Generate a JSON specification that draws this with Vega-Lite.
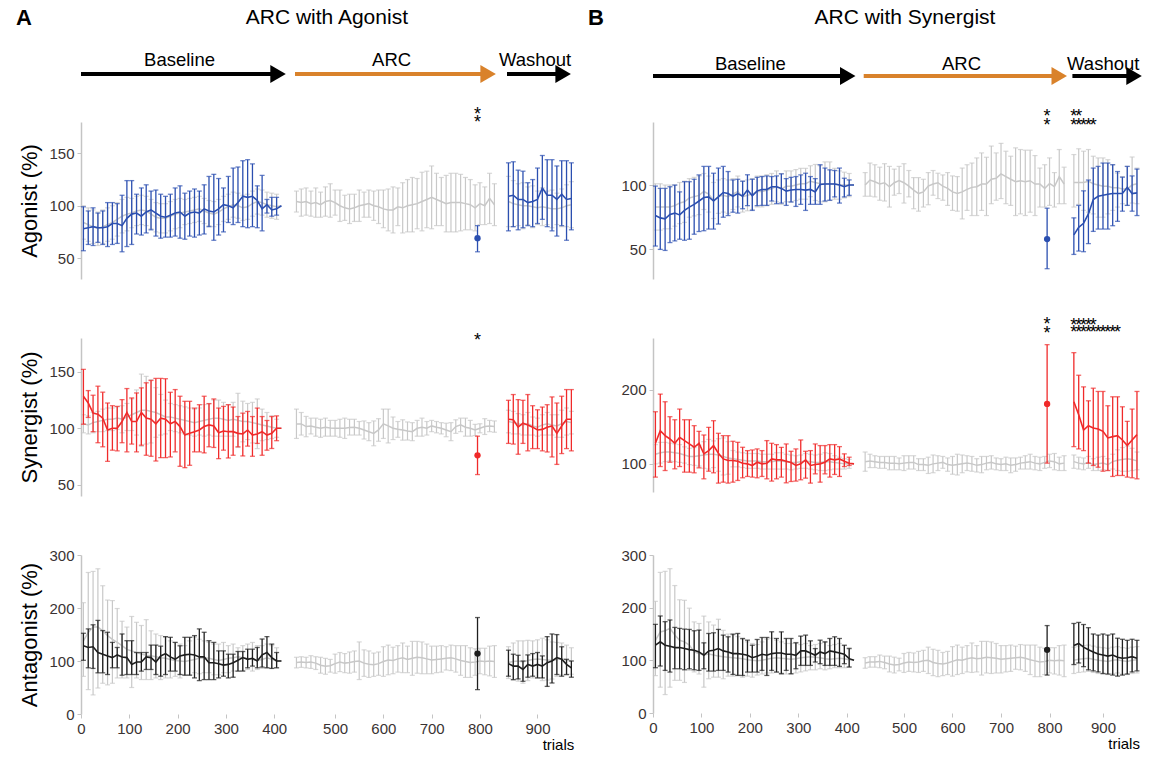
{
"$schema":"https://vega.github.io/schema/vega-lite/v6.json",
"padding":{"left":16,"top":7,"right":8,"bottom":8},
"config":{
 "font":"Liberation Sans",
 "view":{"stroke":null},
 "axis":{"grid":false,"domainColor":"#c4c4c4","domainWidth":1.5,"tickColor":"#c4c4c4","tickSize":4,"labelColor":"#3a3333","labelFontSize":15,"labelFlush":false,"labelPadding":3,"titleFontWeight":"normal","titleColor":"#000"},
 "axisY":{"titleFontSize":22,"titlePadding":7},
 "axisX":{"titleFontSize":15,"titleAnchor":"end","titlePadding":1},
 "text":{"color":"#000000"}
},
"datasets":{
 "segs":[{"phase":"Baseline","start":0,"end":417},{"phase":"ARC","start":417.01,"end":837},{"phase":"Washout","start":837.01,"end":975}],
 "arrA":[{"phase":"Baseline","start":0,"end":408},{"phase":"ARC","start":417.01,"end":817},{"phase":"Washout","start":837.01,"end":953}],
 "arrB":[{"phase":"Baseline","start":0,"end":402},{"phase":"ARC","start":417.01,"end":820},{"phase":"Washout","start":837.01,"end":964}],
 "aAgoS":[{"t":795,"y":191},{"t":795,"y":184}],
 "aSynS":[{"t":795,"y":182}],
 "bAgoS":[{"t":795,"y":157},{"t":795,"y":150},{"t":840,"y":157},{"t":850,"y":157},{"t":840,"y":150},{"t":850,"y":150},{"t":860,"y":150},{"t":870,"y":150},{"t":880,"y":150}],
 "bSynS":[{"t":795,"y":294},{"t":795,"y":282},{"t":840,"y":293},{"t":850,"y":293},{"t":860,"y":293},{"t":870,"y":293},{"t":880,"y":293},{"t":840,"y":283},{"t":850,"y":283},{"t":860,"y":283},{"t":870,"y":283},{"t":880,"y":283},{"t":890,"y":283},{"t":900,"y":283},{"t":910,"y":283},{"t":920,"y":283},{"t":930,"y":283}],
 "aAgo":[
{"t":5,"s":"g","y":84,"lo":68,"hi":100},{"t":15,"s":"g","y":82,"lo":66,"hi":98},{"t":25,"s":"g","y":80,"lo":64,"hi":96},{"t":35,"s":"g","y":78,"lo":62,"hi":94},{"t":45,"s":"g","y":80,"lo":64,"hi":96},{"t":55,"s":"g","y":82,"lo":66,"hi":98},{"t":65,"s":"g","y":84,"lo":68,"hi":100},{"t":75,"s":"g","y":87,"lo":71,"hi":103},{"t":85,"s":"g","y":90,"lo":74,"hi":106},{"t":95,"s":"g","y":92,"lo":76,"hi":108},{"t":105,"s":"g","y":93,"lo":79,"hi":107},{"t":115,"s":"g","y":95,"lo":81,"hi":109},{"t":125,"s":"g","y":96,"lo":82,"hi":110},{"t":135,"s":"g","y":95,"lo":81,"hi":109},{"t":145,"s":"g","y":92,"lo":78,"hi":106},{"t":155,"s":"g","y":89,"lo":75,"hi":103},{"t":165,"s":"g","y":88,"lo":74,"hi":102},{"t":175,"s":"g","y":88,"lo":74,"hi":102},{"t":185,"s":"g","y":90,"lo":76,"hi":104},{"t":195,"s":"g","y":92,"lo":78,"hi":106},{"t":205,"s":"g","y":93,"lo":79,"hi":107},{"t":215,"s":"g","y":94,"lo":82,"hi":106},{"t":225,"s":"g","y":95,"lo":83,"hi":107},{"t":235,"s":"g","y":96,"lo":84,"hi":108},{"t":245,"s":"g","y":97,"lo":85,"hi":109},{"t":255,"s":"g","y":95,"lo":83,"hi":107},{"t":265,"s":"g","y":93,"lo":81,"hi":105},{"t":275,"s":"g","y":92,"lo":80,"hi":104},{"t":285,"s":"g","y":94,"lo":82,"hi":106},{"t":295,"s":"g","y":97,"lo":85,"hi":109},{"t":305,"s":"g","y":99,"lo":87,"hi":111},{"t":315,"s":"g","y":101,"lo":89,"hi":113},{"t":325,"s":"g","y":100,"lo":88,"hi":112},{"t":335,"s":"g","y":98,"lo":86,"hi":110},{"t":345,"s":"g","y":99,"lo":87,"hi":111},{"t":355,"s":"g","y":102,"lo":90,"hi":114},{"t":365,"s":"g","y":104,"lo":92,"hi":116},{"t":375,"s":"g","y":103,"lo":91,"hi":115},{"t":385,"s":"g","y":101,"lo":89,"hi":113},{"t":395,"s":"g","y":100,"lo":88,"hi":112},{"t":405,"s":"g","y":99,"lo":87,"hi":111},{"t":415,"s":"g","y":100},
{"t":420,"s":"g","y":104,"lo":94,"hi":114},{"t":430,"s":"g","y":103,"lo":90,"hi":116},{"t":440,"s":"g","y":104,"lo":91,"hi":117},{"t":450,"s":"g","y":102,"lo":90,"hi":114},{"t":460,"s":"g","y":103,"lo":89,"hi":117},{"t":470,"s":"g","y":101,"lo":89,"hi":113},{"t":480,"s":"g","y":104,"lo":90,"hi":118},{"t":490,"s":"g","y":105,"lo":89,"hi":121},{"t":500,"s":"g","y":103,"lo":91,"hi":115},{"t":510,"s":"g","y":100,"lo":85,"hi":115},{"t":520,"s":"g","y":98,"lo":86,"hi":110},{"t":530,"s":"g","y":97,"lo":83,"hi":111},{"t":540,"s":"g","y":98,"lo":85,"hi":111},{"t":550,"s":"g","y":100,"lo":85,"hi":115},{"t":560,"s":"g","y":101,"lo":89,"hi":113},{"t":570,"s":"g","y":102,"lo":89,"hi":115},{"t":580,"s":"g","y":100,"lo":86,"hi":114},{"t":590,"s":"g","y":99,"lo":83,"hi":115},{"t":600,"s":"g","y":97,"lo":79,"hi":115},{"t":610,"s":"g","y":96,"lo":76,"hi":116},{"t":620,"s":"g","y":96,"lo":74,"hi":118},{"t":630,"s":"g","y":99,"lo":81,"hi":117},{"t":640,"s":"g","y":98,"lo":74,"hi":122},{"t":650,"s":"g","y":100,"lo":75,"hi":125},{"t":660,"s":"g","y":101,"lo":75,"hi":127},{"t":670,"s":"g","y":102,"lo":78,"hi":126},{"t":680,"s":"g","y":104,"lo":76,"hi":132},{"t":690,"s":"g","y":106,"lo":79,"hi":133},{"t":700,"s":"g","y":108,"lo":78,"hi":138},{"t":710,"s":"g","y":106,"lo":81,"hi":131},{"t":720,"s":"g","y":104,"lo":81,"hi":127},{"t":730,"s":"g","y":102,"lo":75,"hi":129},{"t":740,"s":"g","y":103,"lo":75,"hi":131},{"t":750,"s":"g","y":103,"lo":75,"hi":131},{"t":760,"s":"g","y":103,"lo":76,"hi":130},{"t":770,"s":"g","y":102,"lo":77,"hi":127},{"t":780,"s":"g","y":101,"lo":77,"hi":125},{"t":790,"s":"g","y":98,"lo":76,"hi":120},{"t":800,"s":"g","y":102,"lo":82,"hi":122},{"t":810,"s":"g","y":100,"lo":82,"hi":118},{"t":820,"s":"g","y":107,"lo":83,"hi":131},{"t":830,"s":"g","y":101,"lo":81,"hi":121},
{"t":840,"s":"g","y":104,"lo":80,"hi":128},{"t":850,"s":"g","y":102,"lo":80,"hi":124},{"t":860,"s":"g","y":101,"lo":81,"hi":121},{"t":870,"s":"g","y":100,"lo":78,"hi":122},{"t":880,"s":"g","y":100,"lo":82,"hi":118},{"t":890,"s":"g","y":99,"lo":79,"hi":119},{"t":900,"s":"g","y":98,"lo":82,"hi":114},{"t":910,"s":"g","y":99,"lo":81,"hi":117},{"t":920,"s":"g","y":98,"lo":82,"hi":114},{"t":930,"s":"g","y":97,"lo":79,"hi":115},{"t":940,"s":"g","y":97,"lo":82,"hi":112},{"t":950,"s":"g","y":98,"lo":80,"hi":116},{"t":960,"s":"g","y":100,"lo":80,"hi":120},{"t":970,"s":"g","y":101,"lo":79,"hi":123},
{"t":5,"s":"m","y":78,"lo":57,"hi":99},{"t":15,"s":"m","y":79,"lo":63,"hi":95},{"t":25,"s":"m","y":80,"lo":62,"hi":98},{"t":35,"s":"m","y":79,"lo":65,"hi":93},{"t":45,"s":"m","y":79,"lo":63,"hi":95},{"t":55,"s":"m","y":80,"lo":61,"hi":103},{"t":65,"s":"m","y":83,"lo":63,"hi":103},{"t":75,"s":"m","y":83,"lo":64,"hi":102},{"t":85,"s":"m","y":81,"lo":56,"hi":110},{"t":95,"s":"m","y":88,"lo":61,"hi":124},{"t":105,"s":"m","y":92,"lo":63,"hi":124},{"t":115,"s":"m","y":93,"lo":73,"hi":111},{"t":125,"s":"m","y":90,"lo":72,"hi":117},{"t":135,"s":"m","y":94,"lo":74,"hi":120},{"t":145,"s":"m","y":96,"lo":77,"hi":114},{"t":155,"s":"m","y":93,"lo":71,"hi":115},{"t":165,"s":"m","y":90,"lo":69,"hi":111},{"t":175,"s":"m","y":89,"lo":70,"hi":109},{"t":185,"s":"m","y":91,"lo":70,"hi":111},{"t":195,"s":"m","y":93,"lo":71,"hi":117},{"t":205,"s":"m","y":94,"lo":69,"hi":119},{"t":215,"s":"m","y":90,"lo":68,"hi":112},{"t":225,"s":"m","y":93,"lo":71,"hi":114},{"t":235,"s":"m","y":94,"lo":70,"hi":116},{"t":245,"s":"m","y":93,"lo":72,"hi":114},{"t":255,"s":"m","y":97,"lo":73,"hi":120},{"t":265,"s":"m","y":95,"lo":80,"hi":128},{"t":275,"s":"m","y":94,"lo":67,"hi":130},{"t":285,"s":"m","y":97,"lo":72,"hi":126},{"t":295,"s":"m","y":101,"lo":75,"hi":117},{"t":305,"s":"m","y":100,"lo":84,"hi":128},{"t":315,"s":"m","y":98,"lo":82,"hi":136},{"t":325,"s":"m","y":103,"lo":84,"hi":137},{"t":335,"s":"m","y":109,"lo":80,"hi":143},{"t":345,"s":"m","y":108,"lo":79,"hi":144},{"t":355,"s":"m","y":109,"lo":80,"hi":140},{"t":365,"s":"m","y":105,"lo":79,"hi":119},{"t":375,"s":"m","y":97,"lo":76,"hi":129},{"t":385,"s":"m","y":101,"lo":93,"hi":106},{"t":395,"s":"m","y":96,"lo":90,"hi":108},{"t":405,"s":"m","y":97,"lo":91,"hi":108},{"t":415,"s":"m","y":100},
{"t":795,"s":"m","y":69,"lo":56,"hi":81},
{"t":840,"s":"m","y":109,"lo":76,"hi":141},{"t":850,"s":"m","y":110,"lo":80,"hi":142},{"t":860,"s":"m","y":106,"lo":77,"hi":134},{"t":870,"s":"m","y":106,"lo":79,"hi":133},{"t":880,"s":"m","y":103,"lo":81,"hi":122},{"t":890,"s":"m","y":104,"lo":80,"hi":125},{"t":900,"s":"m","y":106,"lo":83,"hi":136},{"t":910,"s":"m","y":117,"lo":87,"hi":148},{"t":920,"s":"m","y":110,"lo":80,"hi":144},{"t":930,"s":"m","y":110,"lo":76,"hi":144},{"t":940,"s":"m","y":106,"lo":71,"hi":138},{"t":950,"s":"m","y":111,"lo":81,"hi":143},{"t":960,"s":"m","y":106,"lo":67,"hi":143},{"t":970,"s":"m","y":107,"lo":77,"hi":141}
 ],
 "aSyn":[
{"t":5,"s":"g","y":104,"lo":96,"hi":112},{"t":15,"s":"g","y":103,"lo":95,"hi":111},{"t":25,"s":"g","y":105,"lo":96,"hi":114},{"t":35,"s":"g","y":106,"lo":97,"hi":115},{"t":45,"s":"g","y":107,"lo":97,"hi":117},{"t":55,"s":"g","y":108,"lo":98,"hi":118},{"t":65,"s":"g","y":108,"lo":98,"hi":118},{"t":75,"s":"g","y":109,"lo":99,"hi":119},{"t":85,"s":"g","y":108,"lo":96,"hi":120},{"t":95,"s":"g","y":110,"lo":98,"hi":122},{"t":105,"s":"g","y":112,"lo":98,"hi":126},{"t":115,"s":"g","y":114,"lo":94,"hi":134},{"t":125,"s":"g","y":116,"lo":84,"hi":148},{"t":135,"s":"g","y":116,"lo":86,"hi":146},{"t":145,"s":"g","y":115,"lo":87,"hi":143},{"t":155,"s":"g","y":114,"lo":92,"hi":136},{"t":165,"s":"g","y":112,"lo":94,"hi":130},{"t":175,"s":"g","y":110,"lo":95,"hi":125},{"t":185,"s":"g","y":110,"lo":98,"hi":122},{"t":195,"s":"g","y":109,"lo":97,"hi":121},{"t":205,"s":"g","y":108,"lo":96,"hi":120},{"t":215,"s":"g","y":107,"lo":95,"hi":119},{"t":225,"s":"g","y":106,"lo":94,"hi":118},{"t":235,"s":"g","y":105,"lo":93,"hi":117},{"t":245,"s":"g","y":106,"lo":94,"hi":118},{"t":255,"s":"g","y":107,"lo":93,"hi":121},{"t":265,"s":"g","y":108,"lo":94,"hi":122},{"t":275,"s":"g","y":109,"lo":93,"hi":125},{"t":285,"s":"g","y":109,"lo":93,"hi":125},{"t":295,"s":"g","y":108,"lo":93,"hi":123},{"t":305,"s":"g","y":107,"lo":93,"hi":121},{"t":315,"s":"g","y":108,"lo":93,"hi":123},{"t":325,"s":"g","y":107,"lo":83,"hi":131},{"t":335,"s":"g","y":106,"lo":88,"hi":124},{"t":345,"s":"g","y":106,"lo":90,"hi":122},{"t":355,"s":"g","y":105,"lo":87,"hi":123},{"t":365,"s":"g","y":104,"lo":82,"hi":126},{"t":375,"s":"g","y":103,"lo":89,"hi":117},{"t":385,"s":"g","y":102,"lo":90,"hi":114},{"t":395,"s":"g","y":101,"lo":91,"hi":111},{"t":405,"s":"g","y":100,"lo":92,"hi":108},{"t":415,"s":"g","y":100},
{"t":420,"s":"g","y":103.9,"lo":91,"hi":117},{"t":430,"s":"g","y":103.9,"lo":94,"hi":114},{"t":440,"s":"g","y":101.5,"lo":92.5,"hi":110.5},{"t":450,"s":"g","y":102.1,"lo":95,"hi":109},{"t":460,"s":"g","y":100.9,"lo":93,"hi":109},{"t":470,"s":"g","y":100,"lo":92,"hi":108},{"t":480,"s":"g","y":100.9,"lo":93,"hi":109},{"t":490,"s":"g","y":100.3,"lo":93,"hi":107},{"t":500,"s":"g","y":100,"lo":93,"hi":107},{"t":510,"s":"g","y":100,"lo":92,"hi":108},{"t":520,"s":"g","y":100,"lo":91,"hi":109},{"t":530,"s":"g","y":100.6,"lo":94,"hi":108},{"t":540,"s":"g","y":100.9,"lo":94,"hi":108},{"t":550,"s":"g","y":100,"lo":94,"hi":106},{"t":560,"s":"g","y":98.5,"lo":90.5,"hi":106.5},{"t":570,"s":"g","y":97,"lo":89,"hi":105},{"t":580,"s":"g","y":95.5,"lo":84.5,"hi":106.5},{"t":590,"s":"g","y":98.5,"lo":88.5,"hi":108.5},{"t":600,"s":"g","y":103.9,"lo":91,"hi":117},{"t":610,"s":"g","y":102.1,"lo":87,"hi":117},{"t":620,"s":"g","y":100,"lo":90,"hi":110},{"t":630,"s":"g","y":99.1,"lo":92,"hi":106},{"t":640,"s":"g","y":98.5,"lo":89.5,"hi":107.5},{"t":650,"s":"g","y":97.6,"lo":89.6,"hi":105.6},{"t":660,"s":"g","y":97,"lo":89,"hi":105},{"t":670,"s":"g","y":100,"lo":93,"hi":107},{"t":680,"s":"g","y":100.9,"lo":93,"hi":109},{"t":690,"s":"g","y":100,"lo":94,"hi":106},{"t":700,"s":"g","y":102.1,"lo":97,"hi":107},{"t":710,"s":"g","y":100.9,"lo":96,"hi":106},{"t":720,"s":"g","y":100,"lo":95,"hi":105},{"t":730,"s":"g","y":98.5,"lo":92.5,"hi":104.5},{"t":740,"s":"g","y":97,"lo":89,"hi":105},{"t":750,"s":"g","y":101.5,"lo":95.5,"hi":107.5},{"t":760,"s":"g","y":103,"lo":97,"hi":109},{"t":770,"s":"g","y":100.9,"lo":93,"hi":109},{"t":780,"s":"g","y":100,"lo":93,"hi":107},{"t":790,"s":"g","y":98.5,"lo":93.5,"hi":103.5},{"t":800,"s":"g","y":100,"lo":96,"hi":104},{"t":810,"s":"g","y":101.5,"lo":94.5,"hi":108.5},{"t":820,"s":"g","y":102.1,"lo":97,"hi":107},{"t":830,"s":"g","y":101.5,"lo":96.5,"hi":106.5},
{"t":840,"s":"g","y":106,"lo":96,"hi":116},{"t":850,"s":"g","y":105,"lo":95,"hi":115},{"t":860,"s":"g","y":104,"lo":95,"hi":113},{"t":870,"s":"g","y":103,"lo":94,"hi":112},{"t":880,"s":"g","y":104,"lo":94,"hi":114},{"t":890,"s":"g","y":102,"lo":94,"hi":110},{"t":900,"s":"g","y":101,"lo":93,"hi":109},{"t":910,"s":"g","y":103,"lo":94,"hi":112},{"t":920,"s":"g","y":104,"lo":94,"hi":114},{"t":930,"s":"g","y":103,"lo":94,"hi":112},{"t":940,"s":"g","y":102,"lo":92,"hi":112},{"t":950,"s":"g","y":104,"lo":92,"hi":116},{"t":960,"s":"g","y":106,"lo":94,"hi":118},{"t":970,"s":"g","y":105,"lo":95,"hi":115},
{"t":5,"s":"m","y":128.4,"lo":103.6,"hi":152.2},{"t":15,"s":"m","y":122.4,"lo":109.6,"hi":133.4},{"t":25,"s":"m","y":113.4,"lo":97,"hi":129.3},{"t":35,"s":"m","y":112.5,"lo":87.2,"hi":137.3},{"t":45,"s":"m","y":109,"lo":83.6,"hi":132},{"t":55,"s":"m","y":98.5,"lo":70.7,"hi":122.4},{"t":65,"s":"m","y":100,"lo":80.6,"hi":120},{"t":75,"s":"m","y":100,"lo":80,"hi":119.4},{"t":85,"s":"m","y":106,"lo":87.2,"hi":125.4},{"t":95,"s":"m","y":114,"lo":79.1,"hi":135.2},{"t":105,"s":"m","y":106,"lo":86,"hi":126.9},{"t":115,"s":"m","y":106,"lo":79.1,"hi":131.3},{"t":125,"s":"m","y":114,"lo":85,"hi":135.8},{"t":135,"s":"m","y":109,"lo":76.1,"hi":140.3},{"t":145,"s":"m","y":108,"lo":75.2,"hi":142.4},{"t":155,"s":"m","y":104,"lo":71,"hi":144.2},{"t":165,"s":"m","y":109,"lo":74,"hi":144.2},{"t":175,"s":"m","y":108,"lo":74,"hi":143.9},{"t":185,"s":"m","y":104,"lo":74.6,"hi":131.9},{"t":195,"s":"m","y":106,"lo":79.1,"hi":134.3},{"t":205,"s":"m","y":101.5,"lo":66.3,"hi":128.4},{"t":215,"s":"m","y":94,"lo":65.1,"hi":123.9},{"t":225,"s":"m","y":95.5,"lo":67.2,"hi":123.9},{"t":235,"s":"m","y":97,"lo":79.1,"hi":117.9},{"t":245,"s":"m","y":98.5,"lo":79.1,"hi":120.9},{"t":255,"s":"m","y":101.5,"lo":78.2,"hi":128.4},{"t":265,"s":"m","y":103,"lo":83.6,"hi":121.8},{"t":275,"s":"m","y":102,"lo":83,"hi":126},{"t":285,"s":"m","y":96,"lo":73.1,"hi":117.9},{"t":295,"s":"m","y":97.6,"lo":80.6,"hi":119.4},{"t":305,"s":"m","y":97,"lo":73.7,"hi":120.9},{"t":315,"s":"m","y":97,"lo":76.1,"hi":118.8},{"t":325,"s":"m","y":95.5,"lo":83.6,"hi":110.4},{"t":335,"s":"m","y":95,"lo":75.5,"hi":113.4},{"t":345,"s":"m","y":98.5,"lo":84.2,"hi":114.9},{"t":355,"s":"m","y":94,"lo":75.2,"hi":110.4},{"t":365,"s":"m","y":95,"lo":86.6,"hi":117.9},{"t":375,"s":"m","y":97,"lo":76.1,"hi":110.4},{"t":385,"s":"m","y":94,"lo":80.6,"hi":106.9},{"t":395,"s":"m","y":95.5,"lo":82.1,"hi":110.4},{"t":405,"s":"m","y":100,"lo":89,"hi":111},{"t":415,"s":"m","y":100},
{"t":795,"s":"m","y":76,"lo":59,"hi":93},
{"t":840,"s":"m","y":108,"lo":86.6,"hi":124.8},{"t":850,"s":"m","y":107.5,"lo":86,"hi":129.9},{"t":860,"s":"m","y":101,"lo":77,"hi":125.4},{"t":870,"s":"m","y":104.5,"lo":86.6,"hi":124.8},{"t":880,"s":"m","y":103,"lo":80,"hi":129.9},{"t":890,"s":"m","y":101,"lo":82,"hi":120},{"t":900,"s":"m","y":98.5,"lo":82,"hi":116.4},{"t":910,"s":"m","y":99,"lo":80,"hi":118.8},{"t":920,"s":"m","y":101,"lo":79,"hi":120.9},{"t":930,"s":"m","y":102,"lo":74.6,"hi":127.8},{"t":940,"s":"m","y":95.5,"lo":68,"hi":122.4},{"t":950,"s":"m","y":102,"lo":77.6,"hi":128.4},{"t":960,"s":"m","y":108,"lo":82,"hi":134.3},{"t":970,"s":"m","y":108,"lo":80,"hi":134.3}
 ],
 "aAnt":[
{"t":5,"s":"g","y":138,"lo":71,"hi":210},{"t":15,"s":"g","y":154,"lo":46,"hi":267},{"t":25,"s":"g","y":164,"lo":36,"hi":269},{"t":35,"s":"g","y":164,"lo":49,"hi":274},{"t":45,"s":"g","y":157,"lo":58,"hi":242},{"t":55,"s":"g","y":148,"lo":55,"hi":215},{"t":65,"s":"g","y":141,"lo":58,"hi":214},{"t":75,"s":"g","y":135,"lo":68,"hi":199},{"t":85,"s":"g","y":129,"lo":68,"hi":175},{"t":95,"s":"g","y":122,"lo":68,"hi":164},{"t":105,"s":"g","y":119,"lo":50,"hi":184},{"t":115,"s":"g","y":116,"lo":68,"hi":173},{"t":125,"s":"g","y":113,"lo":65,"hi":167},{"t":135,"s":"g","y":111,"lo":65,"hi":178},{"t":145,"s":"g","y":110,"lo":65,"hi":157},{"t":155,"s":"g","y":108,"lo":68,"hi":151},{"t":165,"s":"g","y":106,"lo":65,"hi":148},{"t":175,"s":"g","y":105,"lo":68,"hi":145},{"t":185,"s":"g","y":103,"lo":68,"hi":138},{"t":195,"s":"g","y":101,"lo":71,"hi":135},{"t":205,"s":"g","y":100,"lo":68,"hi":132},{"t":215,"s":"g","y":99,"lo":74,"hi":129},{"t":225,"s":"g","y":101,"lo":74,"hi":138},{"t":235,"s":"g","y":103,"lo":78,"hi":145},{"t":245,"s":"g","y":105,"lo":76,"hi":141},{"t":255,"s":"g","y":106,"lo":78,"hi":138},{"t":265,"s":"g","y":105,"lo":78,"hi":135},{"t":275,"s":"g","y":103,"lo":74,"hi":132},{"t":285,"s":"g","y":101,"lo":74,"hi":132},{"t":295,"s":"g","y":103,"lo":78,"hi":135},{"t":305,"s":"g","y":105,"lo":78,"hi":129},{"t":315,"s":"g","y":106,"lo":81,"hi":132},{"t":325,"s":"g","y":108,"lo":81,"hi":125},{"t":335,"s":"g","y":106,"lo":82,"hi":129},{"t":345,"s":"g","y":105,"lo":84,"hi":132},{"t":355,"s":"g","y":103,"lo":81,"hi":135},{"t":365,"s":"g","y":101,"lo":84,"hi":129},{"t":375,"s":"g","y":103,"lo":86,"hi":129},{"t":385,"s":"g","y":106,"lo":87,"hi":132},{"t":395,"s":"g","y":103,"lo":86,"hi":129},{"t":405,"s":"g","y":100,"lo":87,"hi":125},{"t":415,"s":"g","y":100},
{"t":420,"s":"g","y":97,"lo":87,"hi":107},{"t":430,"s":"g","y":98,"lo":88,"hi":108},{"t":440,"s":"g","y":97,"lo":87,"hi":107},{"t":450,"s":"g","y":98,"lo":86,"hi":110},{"t":460,"s":"g","y":96,"lo":84,"hi":108},{"t":470,"s":"g","y":92,"lo":77,"hi":107},{"t":480,"s":"g","y":90,"lo":75,"hi":105},{"t":490,"s":"g","y":91,"lo":79,"hi":103},{"t":500,"s":"g","y":95,"lo":77,"hi":113},{"t":510,"s":"g","y":98,"lo":80,"hi":116},{"t":520,"s":"g","y":96,"lo":78,"hi":114},{"t":530,"s":"g","y":97,"lo":77,"hi":117},{"t":540,"s":"g","y":99,"lo":79,"hi":119},{"t":550,"s":"g","y":100,"lo":65,"hi":136},{"t":560,"s":"g","y":96,"lo":71,"hi":121},{"t":570,"s":"g","y":94,"lo":69,"hi":119},{"t":580,"s":"g","y":93,"lo":71,"hi":115},{"t":590,"s":"g","y":95,"lo":73,"hi":117},{"t":600,"s":"g","y":99,"lo":71,"hi":127},{"t":610,"s":"g","y":102,"lo":74,"hi":130},{"t":620,"s":"g","y":101,"lo":76,"hi":126},{"t":630,"s":"g","y":104,"lo":79,"hi":129},{"t":640,"s":"g","y":106,"lo":78,"hi":134},{"t":650,"s":"g","y":103,"lo":78,"hi":128},{"t":660,"s":"g","y":105,"lo":73,"hi":137},{"t":670,"s":"g","y":107,"lo":77,"hi":137},{"t":680,"s":"g","y":106,"lo":76,"hi":136},{"t":690,"s":"g","y":104,"lo":76,"hi":132},{"t":700,"s":"g","y":102,"lo":76,"hi":128},{"t":710,"s":"g","y":103,"lo":78,"hi":128},{"t":720,"s":"g","y":104,"lo":79,"hi":129},{"t":730,"s":"g","y":105,"lo":83,"hi":127},{"t":740,"s":"g","y":106,"lo":82,"hi":130},{"t":750,"s":"g","y":104,"lo":79,"hi":129},{"t":760,"s":"g","y":101,"lo":73,"hi":129},{"t":770,"s":"g","y":99,"lo":69,"hi":129},{"t":780,"s":"g","y":97,"lo":69,"hi":125},{"t":790,"s":"g","y":98,"lo":73,"hi":123},{"t":800,"s":"g","y":100,"lo":76,"hi":124},{"t":810,"s":"g","y":99,"lo":74,"hi":124},{"t":820,"s":"g","y":100,"lo":72,"hi":128},{"t":830,"s":"g","y":99,"lo":69,"hi":129},
{"t":840,"s":"g","y":97,"lo":67,"hi":127},{"t":850,"s":"g","y":99,"lo":64,"hi":134},{"t":860,"s":"g","y":100,"lo":62,"hi":138},{"t":870,"s":"g","y":98,"lo":58,"hi":138},{"t":880,"s":"g","y":101,"lo":63,"hi":139},{"t":890,"s":"g","y":103,"lo":68,"hi":138},{"t":900,"s":"g","y":104,"lo":68,"hi":140},{"t":910,"s":"g","y":103,"lo":63,"hi":143},{"t":920,"s":"g","y":102,"lo":64,"hi":140},{"t":930,"s":"g","y":101,"lo":66,"hi":136},{"t":940,"s":"g","y":103,"lo":71,"hi":135},{"t":950,"s":"g","y":104,"lo":74,"hi":134},{"t":960,"s":"g","y":102,"lo":74,"hi":130},{"t":970,"s":"g","y":100,"lo":75,"hi":125},
{"t":5,"s":"m","y":128.7,"lo":101.3,"hi":152.3},{"t":15,"s":"m","y":125.5,"lo":87.2,"hi":160.6},{"t":25,"s":"m","y":126.8,"lo":86,"hi":168.3},{"t":35,"s":"m","y":116,"lo":77.7,"hi":176.6},{"t":45,"s":"m","y":112.8,"lo":77.7,"hi":157.4},{"t":55,"s":"m","y":109.6,"lo":74.5,"hi":154.2},{"t":65,"s":"m","y":106.4,"lo":87.2,"hi":135.1},{"t":75,"s":"m","y":111.5,"lo":87.2,"hi":125.5},{"t":85,"s":"m","y":107.7,"lo":73.2,"hi":151},{"t":95,"s":"m","y":106.4,"lo":74.5,"hi":138.3},{"t":105,"s":"m","y":93.6,"lo":74.5,"hi":138.3},{"t":115,"s":"m","y":98,"lo":74.5,"hi":116},{"t":125,"s":"m","y":98,"lo":80.9,"hi":116},{"t":135,"s":"m","y":107.7,"lo":84,"hi":116},{"t":145,"s":"m","y":106.4,"lo":84,"hi":130},{"t":155,"s":"m","y":98,"lo":74.5,"hi":130},{"t":165,"s":"m","y":109.6,"lo":71.3,"hi":128},{"t":175,"s":"m","y":114,"lo":74.5,"hi":146},{"t":185,"s":"m","y":107.7,"lo":80.9,"hi":144.7},{"t":195,"s":"m","y":103.2,"lo":80.9,"hi":135.1},{"t":205,"s":"m","y":109.6,"lo":74.5,"hi":128.7},{"t":215,"s":"m","y":111.5,"lo":73.2,"hi":144.7},{"t":225,"s":"m","y":112.8,"lo":73.2,"hi":144.7},{"t":235,"s":"m","y":111.5,"lo":68.1,"hi":147.9},{"t":245,"s":"m","y":107.7,"lo":63,"hi":160.6},{"t":255,"s":"m","y":107.7,"lo":64.9,"hi":154.2},{"t":265,"s":"m","y":96.8,"lo":64.9,"hi":138.3},{"t":275,"s":"m","y":96.8,"lo":64.9,"hi":135.1},{"t":285,"s":"m","y":94.9,"lo":68.1,"hi":119.1},{"t":295,"s":"m","y":92.3,"lo":71.3,"hi":119.1},{"t":305,"s":"m","y":93.6,"lo":68.1,"hi":112.8},{"t":315,"s":"m","y":96.8,"lo":69.4,"hi":112.8},{"t":325,"s":"m","y":101.3,"lo":80.9,"hi":117.9},{"t":335,"s":"m","y":106.4,"lo":80.9,"hi":117.9},{"t":345,"s":"m","y":103.2,"lo":87.2,"hi":122.3},{"t":355,"s":"m","y":105.1,"lo":90.4,"hi":122.3},{"t":365,"s":"m","y":100,"lo":87.2,"hi":125.5},{"t":375,"s":"m","y":111.5,"lo":88.5,"hi":141.5},{"t":385,"s":"m","y":116,"lo":87.2,"hi":146},{"t":395,"s":"m","y":106.4,"lo":86,"hi":131.9},{"t":405,"s":"m","y":100,"lo":87.2,"hi":116},{"t":415,"s":"m","y":100},
{"t":795,"s":"m","y":114,"lo":46,"hi":182},
{"t":840,"s":"m","y":95,"lo":71.3,"hi":120.4},{"t":850,"s":"m","y":90.4,"lo":64.9,"hi":112.8},{"t":860,"s":"m","y":90.4,"lo":66.2,"hi":110.8},{"t":870,"s":"m","y":84,"lo":61.7,"hi":100},{"t":880,"s":"m","y":93.6,"lo":69.4,"hi":111.5},{"t":890,"s":"m","y":90.4,"lo":71.3,"hi":114},{"t":900,"s":"m","y":93.6,"lo":68.1,"hi":116},{"t":910,"s":"m","y":90.4,"lo":68.1,"hi":109.6},{"t":920,"s":"m","y":96.8,"lo":52.1,"hi":146},{"t":930,"s":"m","y":100,"lo":58.5,"hi":151},{"t":940,"s":"m","y":106.4,"lo":74.5,"hi":149.8},{"t":950,"s":"m","y":103.2,"lo":71.3,"hi":126.8},{"t":960,"s":"m","y":93.6,"lo":74.5,"hi":103.2},{"t":970,"s":"m","y":87.2,"lo":69.4,"hi":100}
 ],
 "bAgo":[
{"t":5,"s":"g","y":83,"lo":65,"hi":101},{"t":15,"s":"g","y":83,"lo":65,"hi":101},{"t":25,"s":"g","y":83,"lo":66,"hi":100},{"t":35,"s":"g","y":83,"lo":66,"hi":100},{"t":45,"s":"g","y":84,"lo":68,"hi":100},{"t":55,"s":"g","y":86,"lo":70,"hi":102},{"t":65,"s":"g","y":87,"lo":71,"hi":103},{"t":75,"s":"g","y":90,"lo":75,"hi":105},{"t":85,"s":"g","y":91,"lo":76,"hi":106},{"t":95,"s":"g","y":92,"lo":77,"hi":107},{"t":105,"s":"g","y":95,"lo":81,"hi":109},{"t":115,"s":"g","y":93,"lo":79,"hi":107},{"t":125,"s":"g","y":88,"lo":74,"hi":102},{"t":135,"s":"g","y":91,"lo":78,"hi":104},{"t":145,"s":"g","y":92,"lo":79,"hi":105},{"t":155,"s":"g","y":91,"lo":78,"hi":104},{"t":165,"s":"g","y":93,"lo":81,"hi":105},{"t":175,"s":"g","y":95,"lo":83,"hi":107},{"t":185,"s":"g","y":91,"lo":79,"hi":103},{"t":195,"s":"g","y":92,"lo":80,"hi":104},{"t":205,"s":"g","y":93,"lo":81,"hi":105},{"t":215,"s":"g","y":95,"lo":83,"hi":107},{"t":225,"s":"g","y":95,"lo":83,"hi":107},{"t":235,"s":"g","y":96,"lo":84,"hi":108},{"t":245,"s":"g","y":97,"lo":85,"hi":109},{"t":255,"s":"g","y":99,"lo":87,"hi":111},{"t":265,"s":"g","y":97,"lo":85,"hi":109},{"t":275,"s":"g","y":99,"lo":87,"hi":111},{"t":285,"s":"g","y":99,"lo":87,"hi":111},{"t":295,"s":"g","y":100,"lo":88,"hi":112},{"t":305,"s":"g","y":101,"lo":89,"hi":113},{"t":315,"s":"g","y":101,"lo":89,"hi":113},{"t":325,"s":"g","y":103,"lo":91,"hi":115},{"t":335,"s":"g","y":102,"lo":88,"hi":116},{"t":345,"s":"g","y":101,"lo":87,"hi":115},{"t":355,"s":"g","y":101,"lo":87,"hi":118},{"t":365,"s":"g","y":101,"lo":88,"hi":118},{"t":375,"s":"g","y":101,"lo":89,"hi":113},{"t":385,"s":"g","y":100,"lo":89,"hi":111},{"t":395,"s":"g","y":100,"lo":90,"hi":110},{"t":405,"s":"g","y":100,"lo":91,"hi":109},{"t":415,"s":"g","y":100},
{"t":420,"s":"g","y":100,"lo":91.3,"hi":109.7},{"t":430,"s":"g","y":103.9,"lo":91.3,"hi":117.1},{"t":440,"s":"g","y":102.6,"lo":90.8,"hi":115.8},{"t":450,"s":"g","y":100.8,"lo":88.2,"hi":113.9},{"t":460,"s":"g","y":101.8,"lo":87.6,"hi":116.6},{"t":470,"s":"g","y":98.7,"lo":82.9,"hi":114.5},{"t":480,"s":"g","y":101.8,"lo":92.1,"hi":112.4},{"t":490,"s":"g","y":103.4,"lo":93.4,"hi":114.5},{"t":500,"s":"g","y":101.8,"lo":86,"hi":116.6},{"t":510,"s":"g","y":99.2,"lo":90.8,"hi":111.3},{"t":520,"s":"g","y":96.1,"lo":81.6,"hi":105.8},{"t":530,"s":"g","y":93.4,"lo":79.7,"hi":105.8},{"t":540,"s":"g","y":94.7,"lo":82.9,"hi":104.5},{"t":550,"s":"g","y":99.2,"lo":84.7,"hi":109.7},{"t":560,"s":"g","y":100.8,"lo":92.1,"hi":111.3},{"t":570,"s":"g","y":101.8,"lo":89.5,"hi":109.2},{"t":580,"s":"g","y":99.2,"lo":88.2,"hi":107.9},{"t":590,"s":"g","y":97.4,"lo":84.2,"hi":109.7},{"t":600,"s":"g","y":94.7,"lo":80.3,"hi":107.1},{"t":610,"s":"g","y":93.4,"lo":79.7,"hi":106.6},{"t":620,"s":"g","y":94.7,"lo":73.7,"hi":113.2},{"t":630,"s":"g","y":96.6,"lo":80.3,"hi":115.8},{"t":640,"s":"g","y":98.2,"lo":76.3,"hi":117.1},{"t":650,"s":"g","y":98.7,"lo":76.3,"hi":121.1},{"t":660,"s":"g","y":100.8,"lo":80.3,"hi":125},{"t":670,"s":"g","y":100.8,"lo":76.3,"hi":121.6},{"t":680,"s":"g","y":104.5,"lo":85.5,"hi":130.3},{"t":690,"s":"g","y":105.3,"lo":88.2,"hi":125},{"t":700,"s":"g","y":108.7,"lo":89.5,"hi":132.4},{"t":710,"s":"g","y":106.6,"lo":85.5,"hi":126.3},{"t":720,"s":"g","y":104.5,"lo":84.2,"hi":122.4},{"t":730,"s":"g","y":102.6,"lo":76.3,"hi":128.9},{"t":740,"s":"g","y":103.4,"lo":77.6,"hi":127.6},{"t":750,"s":"g","y":102.6,"lo":76.3,"hi":127.1},{"t":760,"s":"g","y":103.4,"lo":78.9,"hi":127.1},{"t":770,"s":"g","y":100.8,"lo":76.3,"hi":122.9},{"t":780,"s":"g","y":100.8,"lo":82.9,"hi":113.2},{"t":790,"s":"g","y":97.4,"lo":82.9,"hi":115.8},{"t":800,"s":"g","y":101.3,"lo":84.2,"hi":121.1},{"t":810,"s":"g","y":98.7,"lo":82.9,"hi":109.7},{"t":820,"s":"g","y":106.6,"lo":85.5,"hi":127.6},{"t":830,"s":"g","y":100.8,"lo":85.5,"hi":113.9},
{"t":840,"s":"g","y":102,"lo":82.9,"hi":123.7},{"t":850,"s":"g","y":102,"lo":85,"hi":128.2},{"t":860,"s":"g","y":102,"lo":80.3,"hi":126.3},{"t":870,"s":"g","y":103,"lo":78.9,"hi":127.6},{"t":880,"s":"g","y":101,"lo":77.6,"hi":122.4},{"t":890,"s":"g","y":100,"lo":75,"hi":121.1},{"t":900,"s":"g","y":99,"lo":75,"hi":121.1},{"t":910,"s":"g","y":99,"lo":77.6,"hi":119.7},{"t":920,"s":"g","y":98,"lo":80.3,"hi":115.8},{"t":930,"s":"g","y":98,"lo":82.9,"hi":109.2},{"t":940,"s":"g","y":97,"lo":85.5,"hi":106.6},{"t":950,"s":"g","y":97,"lo":84.2,"hi":114.5},{"t":960,"s":"g","y":100,"lo":86,"hi":121.8},{"t":970,"s":"g","y":101,"lo":85.5,"hi":113.2},
{"t":5,"s":"m","y":76.3,"lo":52.6,"hi":99.2},{"t":15,"s":"m","y":74.5,"lo":50,"hi":97.4},{"t":25,"s":"m","y":73.7,"lo":49.2,"hi":97.4},{"t":35,"s":"m","y":77.1,"lo":55.3,"hi":98.7},{"t":45,"s":"m","y":78.2,"lo":56.6,"hi":100},{"t":55,"s":"m","y":76.8,"lo":57.9,"hi":94.7},{"t":65,"s":"m","y":80.3,"lo":57.1,"hi":102.6},{"t":75,"s":"m","y":82.9,"lo":57.9,"hi":102.6},{"t":85,"s":"m","y":85,"lo":61.8,"hi":104.5},{"t":95,"s":"m","y":87.6,"lo":63.9,"hi":107.9},{"t":105,"s":"m","y":90.3,"lo":64.5,"hi":114.5},{"t":115,"s":"m","y":90.8,"lo":65.8,"hi":114.5},{"t":125,"s":"m","y":87.6,"lo":65.8,"hi":109.2},{"t":135,"s":"m","y":90.8,"lo":69.7,"hi":113.2},{"t":145,"s":"m","y":94.2,"lo":75,"hi":114.5},{"t":155,"s":"m","y":93.4,"lo":76.3,"hi":110.5},{"t":165,"s":"m","y":91.3,"lo":78.9,"hi":104},{"t":175,"s":"m","y":93.4,"lo":78.2,"hi":104.5},{"t":185,"s":"m","y":91.3,"lo":81.6,"hi":103},{"t":195,"s":"m","y":96.1,"lo":84,"hi":108},{"t":205,"s":"m","y":91.6,"lo":80.3,"hi":104.5},{"t":215,"s":"m","y":95.5,"lo":84,"hi":106},{"t":225,"s":"m","y":96.6,"lo":84.2,"hi":106.6},{"t":235,"s":"m","y":96.6,"lo":84.2,"hi":107.1},{"t":245,"s":"m","y":98.7,"lo":87.6,"hi":106.6},{"t":255,"s":"m","y":98.7,"lo":85.5,"hi":107.1},{"t":265,"s":"m","y":97.4,"lo":86,"hi":108.7},{"t":275,"s":"m","y":95.3,"lo":84.2,"hi":105},{"t":285,"s":"m","y":96.1,"lo":86.8,"hi":106},{"t":295,"s":"m","y":96.6,"lo":83.4,"hi":106.6},{"t":305,"s":"m","y":96.6,"lo":85,"hi":107.9},{"t":315,"s":"m","y":96.1,"lo":80.3,"hi":109.2},{"t":325,"s":"m","y":96.6,"lo":85,"hi":106.6},{"t":335,"s":"m","y":94.7,"lo":85,"hi":105},{"t":345,"s":"m","y":100.5,"lo":85,"hi":115.8},{"t":355,"s":"m","y":100.8,"lo":87.6,"hi":113.2},{"t":365,"s":"m","y":100.8,"lo":88.2,"hi":111.8},{"t":375,"s":"m","y":100.8,"lo":90.8,"hi":111.3},{"t":385,"s":"m","y":100,"lo":86,"hi":113.2},{"t":395,"s":"m","y":98.7,"lo":90.8,"hi":105.3},{"t":405,"s":"m","y":100,"lo":92,"hi":104},{"t":415,"s":"m","y":100},
{"t":795,"s":"m","y":58,"lo":35,"hi":82},
{"t":840,"s":"m","y":61.3,"lo":46.1,"hi":74.5},{"t":850,"s":"m","y":67.1,"lo":48.7,"hi":84.2},{"t":860,"s":"m","y":70.3,"lo":48.2,"hi":95.5},{"t":870,"s":"m","y":77.6,"lo":54.5,"hi":103.9},{"t":880,"s":"m","y":88.7,"lo":64,"hi":113.2},{"t":890,"s":"m","y":91.3,"lo":65.8,"hi":114.5},{"t":900,"s":"m","y":92.1,"lo":65.8,"hi":117.1},{"t":910,"s":"m","y":92.9,"lo":65.8,"hi":117.1},{"t":920,"s":"m","y":93.4,"lo":68.4,"hi":115.8},{"t":930,"s":"m","y":93.4,"lo":71.8,"hi":110.5},{"t":940,"s":"m","y":93.4,"lo":79.7,"hi":106.1},{"t":950,"s":"m","y":98.2,"lo":84.2,"hi":114.5},{"t":960,"s":"m","y":93.4,"lo":79.7,"hi":107.1},{"t":970,"s":"m","y":93.9,"lo":76.3,"hi":112.4}
 ],
 "bSyn":[
{"t":5,"s":"g","y":113,"lo":100,"hi":126},{"t":15,"s":"g","y":115,"lo":101,"hi":129},{"t":25,"s":"g","y":116,"lo":103,"hi":129},{"t":35,"s":"g","y":116,"lo":104,"hi":128},{"t":45,"s":"g","y":115,"lo":103,"hi":127},{"t":55,"s":"g","y":114,"lo":102,"hi":126},{"t":65,"s":"g","y":112,"lo":101,"hi":123},{"t":75,"s":"g","y":110,"lo":99,"hi":121},{"t":85,"s":"g","y":110,"lo":98,"hi":122},{"t":95,"s":"g","y":111,"lo":97,"hi":125},{"t":105,"s":"g","y":112,"lo":94,"hi":130},{"t":115,"s":"g","y":113,"lo":93,"hi":133},{"t":125,"s":"g","y":113,"lo":95,"hi":131},{"t":135,"s":"g","y":112,"lo":90,"hi":134},{"t":145,"s":"g","y":110,"lo":85,"hi":135},{"t":155,"s":"g","y":108,"lo":86,"hi":130},{"t":165,"s":"g","y":107,"lo":96,"hi":118},{"t":175,"s":"g","y":106,"lo":96,"hi":116},{"t":185,"s":"g","y":105,"lo":95,"hi":115},{"t":195,"s":"g","y":104,"lo":94,"hi":114},{"t":205,"s":"g","y":104,"lo":94,"hi":114},{"t":215,"s":"g","y":104,"lo":94,"hi":114},{"t":225,"s":"g","y":103,"lo":93,"hi":113},{"t":235,"s":"g","y":103,"lo":93,"hi":113},{"t":245,"s":"g","y":103,"lo":93,"hi":113},{"t":255,"s":"g","y":104,"lo":93,"hi":115},{"t":265,"s":"g","y":104,"lo":93,"hi":115},{"t":275,"s":"g","y":103,"lo":93,"hi":113},{"t":285,"s":"g","y":102,"lo":92,"hi":112},{"t":295,"s":"g","y":102,"lo":93,"hi":111},{"t":305,"s":"g","y":103,"lo":94,"hi":112},{"t":315,"s":"g","y":104,"lo":94,"hi":114},{"t":325,"s":"g","y":103,"lo":93,"hi":113},{"t":335,"s":"g","y":102,"lo":92,"hi":112},{"t":345,"s":"g","y":102,"lo":91,"hi":113},{"t":355,"s":"g","y":103,"lo":91,"hi":115},{"t":365,"s":"g","y":103,"lo":92,"hi":114},{"t":375,"s":"g","y":102,"lo":93,"hi":111},{"t":385,"s":"g","y":101,"lo":93,"hi":109},{"t":395,"s":"g","y":100,"lo":93,"hi":107},{"t":405,"s":"g","y":100,"lo":94,"hi":106},{"t":415,"s":"g","y":100},
{"t":420,"s":"g","y":103,"lo":90,"hi":116},{"t":430,"s":"g","y":104,"lo":95,"hi":113},{"t":440,"s":"g","y":103,"lo":95,"hi":111},{"t":450,"s":"g","y":102,"lo":94,"hi":110},{"t":460,"s":"g","y":102,"lo":94,"hi":110},{"t":470,"s":"g","y":101,"lo":92,"hi":110},{"t":480,"s":"g","y":101,"lo":92,"hi":110},{"t":490,"s":"g","y":100,"lo":92,"hi":108},{"t":500,"s":"g","y":101,"lo":91,"hi":111},{"t":510,"s":"g","y":102,"lo":93,"hi":111},{"t":520,"s":"g","y":102,"lo":93,"hi":111},{"t":530,"s":"g","y":99,"lo":91,"hi":107},{"t":540,"s":"g","y":99,"lo":91,"hi":107},{"t":550,"s":"g","y":98,"lo":87,"hi":109},{"t":560,"s":"g","y":100,"lo":88,"hi":112},{"t":570,"s":"g","y":101,"lo":91,"hi":111},{"t":580,"s":"g","y":102,"lo":94,"hi":110},{"t":590,"s":"g","y":99,"lo":90,"hi":108},{"t":600,"s":"g","y":98,"lo":86,"hi":110},{"t":610,"s":"g","y":99,"lo":85,"hi":113},{"t":620,"s":"g","y":100,"lo":88,"hi":112},{"t":630,"s":"g","y":101,"lo":91,"hi":111},{"t":640,"s":"g","y":100,"lo":90,"hi":110},{"t":650,"s":"g","y":98,"lo":89,"hi":107},{"t":660,"s":"g","y":99,"lo":88,"hi":110},{"t":670,"s":"g","y":101,"lo":92,"hi":110},{"t":680,"s":"g","y":102,"lo":93,"hi":111},{"t":690,"s":"g","y":100,"lo":92,"hi":108},{"t":700,"s":"g","y":99,"lo":91,"hi":107},{"t":710,"s":"g","y":100,"lo":91,"hi":109},{"t":720,"s":"g","y":98,"lo":88,"hi":108},{"t":730,"s":"g","y":99,"lo":90,"hi":108},{"t":740,"s":"g","y":101,"lo":93,"hi":109},{"t":750,"s":"g","y":102,"lo":93,"hi":111},{"t":760,"s":"g","y":103,"lo":93,"hi":113},{"t":770,"s":"g","y":101,"lo":92,"hi":110},{"t":780,"s":"g","y":100,"lo":91,"hi":109},{"t":790,"s":"g","y":102,"lo":94,"hi":110},{"t":800,"s":"g","y":104,"lo":95,"hi":113},{"t":810,"s":"g","y":103,"lo":92,"hi":114},{"t":820,"s":"g","y":100,"lo":91,"hi":109},{"t":830,"s":"g","y":101,"lo":91,"hi":111},
{"t":840,"s":"g","y":103,"lo":94,"hi":112},{"t":850,"s":"g","y":101,"lo":93,"hi":109},{"t":860,"s":"g","y":100,"lo":92,"hi":108},{"t":870,"s":"g","y":102,"lo":94,"hi":110},{"t":880,"s":"g","y":99,"lo":91,"hi":107},{"t":890,"s":"g","y":100,"lo":91,"hi":109},{"t":900,"s":"g","y":101,"lo":92,"hi":110},{"t":910,"s":"g","y":99,"lo":91,"hi":107},{"t":920,"s":"g","y":103,"lo":93,"hi":113},{"t":930,"s":"g","y":105,"lo":91,"hi":119},{"t":940,"s":"g","y":106,"lo":90,"hi":122},{"t":950,"s":"g","y":107,"lo":90,"hi":124},{"t":960,"s":"g","y":106,"lo":91,"hi":121},{"t":970,"s":"g","y":104,"lo":92,"hi":116},
{"t":5,"s":"m","y":127.8,"lo":82.1,"hi":170.4},{"t":15,"s":"m","y":144.8,"lo":96.4,"hi":194.2},{"t":25,"s":"m","y":138.1,"lo":91,"hi":183.9},{"t":35,"s":"m","y":133.6,"lo":102.2,"hi":163.7},{"t":45,"s":"m","y":127.8,"lo":93.3,"hi":159.6},{"t":55,"s":"m","y":135.9,"lo":96.4,"hi":174},{"t":65,"s":"m","y":131.4,"lo":88.8,"hi":159.6},{"t":75,"s":"m","y":126.9,"lo":88.8,"hi":159.6},{"t":85,"s":"m","y":122.4,"lo":87.9,"hi":151.6},{"t":95,"s":"m","y":127.8,"lo":94.6,"hi":143.9},{"t":105,"s":"m","y":113.5,"lo":79.8,"hi":139},{"t":115,"s":"m","y":117.9,"lo":90.1,"hi":149.3},{"t":125,"s":"m","y":124.7,"lo":87.9,"hi":158.3},{"t":135,"s":"m","y":114.3,"lo":74,"hi":141.3},{"t":145,"s":"m","y":106.7,"lo":75.3,"hi":138.1},{"t":155,"s":"m","y":104.5,"lo":74,"hi":138.1},{"t":165,"s":"m","y":104.5,"lo":75.3,"hi":130.5},{"t":175,"s":"m","y":103.6,"lo":77.6,"hi":129.1},{"t":185,"s":"m","y":100.9,"lo":81.2,"hi":122.4},{"t":195,"s":"m","y":100,"lo":83,"hi":117.9},{"t":205,"s":"m","y":97.8,"lo":82.1,"hi":118.8},{"t":215,"s":"m","y":102.2,"lo":81.2,"hi":120.2},{"t":225,"s":"m","y":100,"lo":83,"hi":117.9},{"t":235,"s":"m","y":100.9,"lo":79.8,"hi":131.4},{"t":245,"s":"m","y":106.7,"lo":76.7,"hi":127.8},{"t":255,"s":"m","y":105.4,"lo":79.8,"hi":126},{"t":265,"s":"m","y":105.4,"lo":82.1,"hi":122.4},{"t":275,"s":"m","y":103.6,"lo":74.4,"hi":126.9},{"t":285,"s":"m","y":101.8,"lo":76.2,"hi":117},{"t":295,"s":"m","y":97.8,"lo":76.7,"hi":120.2},{"t":305,"s":"m","y":100,"lo":78.5,"hi":132.3},{"t":315,"s":"m","y":105.4,"lo":80.7,"hi":117},{"t":325,"s":"m","y":97.8,"lo":74,"hi":117.9},{"t":335,"s":"m","y":99.1,"lo":86.5,"hi":126.9},{"t":345,"s":"m","y":100,"lo":75.3,"hi":124.7},{"t":355,"s":"m","y":102.2,"lo":86.5,"hi":124.7},{"t":365,"s":"m","y":106.7,"lo":82.1,"hi":126},{"t":375,"s":"m","y":105.4,"lo":85.7,"hi":126},{"t":385,"s":"m","y":106.7,"lo":83,"hi":123.3},{"t":395,"s":"m","y":103.6,"lo":96.4,"hi":113.5},{"t":405,"s":"m","y":100.9,"lo":97.8,"hi":109},{"t":415,"s":"m","y":100},
{"t":795,"s":"m","y":181,"lo":101,"hi":261},
{"t":840,"s":"m","y":183.9,"lo":123.3,"hi":250.2},{"t":850,"s":"m","y":166.4,"lo":120.2,"hi":219.7},{"t":860,"s":"m","y":145.7,"lo":117.9,"hi":204},{"t":870,"s":"m","y":151.6,"lo":100.9,"hi":185.2},{"t":880,"s":"m","y":148.4,"lo":97.8,"hi":202.2},{"t":890,"s":"m","y":147.1,"lo":95.5,"hi":197.8},{"t":900,"s":"m","y":143.9,"lo":90.1,"hi":197.8},{"t":910,"s":"m","y":135,"lo":91,"hi":178.5},{"t":920,"s":"m","y":136.8,"lo":83,"hi":190.6},{"t":930,"s":"m","y":138.1,"lo":84.3,"hi":190.6},{"t":940,"s":"m","y":132.3,"lo":84.3,"hi":177.1},{"t":950,"s":"m","y":124.7,"lo":82.1,"hi":157.4},{"t":960,"s":"m","y":132.3,"lo":81.2,"hi":174},{"t":970,"s":"m","y":139.5,"lo":79.8,"hi":197.8}
 ],
 "bAnt":[
{"t":5,"s":"g","y":138,"lo":71,"hi":212},{"t":15,"s":"g","y":154,"lo":49,"hi":267},{"t":25,"s":"g","y":156,"lo":35,"hi":269},{"t":35,"s":"g","y":161,"lo":49,"hi":274},{"t":45,"s":"g","y":148,"lo":62,"hi":242},{"t":55,"s":"g","y":138,"lo":62,"hi":215},{"t":65,"s":"g","y":135,"lo":58,"hi":214},{"t":75,"s":"g","y":129,"lo":81,"hi":199},{"t":85,"s":"g","y":116,"lo":78,"hi":173},{"t":95,"s":"g","y":113,"lo":74,"hi":170},{"t":105,"s":"g","y":110,"lo":49,"hi":184},{"t":115,"s":"g","y":112,"lo":65,"hi":173},{"t":125,"s":"g","y":110,"lo":68,"hi":167},{"t":135,"s":"g","y":108,"lo":68,"hi":178},{"t":145,"s":"g","y":107,"lo":65,"hi":157},{"t":155,"s":"g","y":106,"lo":70,"hi":150},{"t":165,"s":"g","y":105,"lo":70,"hi":148},{"t":175,"s":"g","y":104,"lo":72,"hi":145},{"t":185,"s":"g","y":103,"lo":68,"hi":140},{"t":195,"s":"g","y":101,"lo":70,"hi":135},{"t":205,"s":"g","y":100,"lo":68,"hi":132},{"t":215,"s":"g","y":99,"lo":72,"hi":130},{"t":225,"s":"g","y":100,"lo":74,"hi":135},{"t":235,"s":"g","y":102,"lo":76,"hi":140},{"t":245,"s":"g","y":104,"lo":76,"hi":142},{"t":255,"s":"g","y":105,"lo":78,"hi":138},{"t":265,"s":"g","y":104,"lo":76,"hi":135},{"t":275,"s":"g","y":103,"lo":74,"hi":132},{"t":285,"s":"g","y":102,"lo":74,"hi":132},{"t":295,"s":"g","y":103,"lo":76,"hi":134},{"t":305,"s":"g","y":105,"lo":78,"hi":130},{"t":315,"s":"g","y":106,"lo":80,"hi":132},{"t":325,"s":"g","y":107,"lo":82,"hi":128},{"t":335,"s":"g","y":106,"lo":82,"hi":130},{"t":345,"s":"g","y":105,"lo":84,"hi":132},{"t":355,"s":"g","y":103,"lo":82,"hi":134},{"t":365,"s":"g","y":102,"lo":84,"hi":128},{"t":375,"s":"g","y":103,"lo":86,"hi":130},{"t":385,"s":"g","y":104,"lo":86,"hi":132},{"t":395,"s":"g","y":103,"lo":86,"hi":128},{"t":405,"s":"g","y":101,"lo":88,"hi":124},{"t":415,"s":"g","y":100},
{"t":420,"s":"g","y":95,"lo":85,"hi":105},{"t":430,"s":"g","y":97,"lo":87,"hi":107},{"t":440,"s":"g","y":97,"lo":87,"hi":107},{"t":450,"s":"g","y":98,"lo":86,"hi":110},{"t":460,"s":"g","y":96,"lo":84,"hi":108},{"t":470,"s":"g","y":93,"lo":78,"hi":108},{"t":480,"s":"g","y":91,"lo":76,"hi":106},{"t":490,"s":"g","y":92,"lo":80,"hi":104},{"t":500,"s":"g","y":95,"lo":77,"hi":113},{"t":510,"s":"g","y":97,"lo":79,"hi":115},{"t":520,"s":"g","y":96,"lo":78,"hi":114},{"t":530,"s":"g","y":97,"lo":77,"hi":117},{"t":540,"s":"g","y":99,"lo":79,"hi":119},{"t":550,"s":"g","y":100,"lo":75,"hi":125},{"t":560,"s":"g","y":96,"lo":71,"hi":121},{"t":570,"s":"g","y":94,"lo":69,"hi":119},{"t":580,"s":"g","y":93,"lo":71,"hi":115},{"t":590,"s":"g","y":95,"lo":73,"hi":117},{"t":600,"s":"g","y":98,"lo":70,"hi":126},{"t":610,"s":"g","y":101,"lo":73,"hi":129},{"t":620,"s":"g","y":100,"lo":75,"hi":125},{"t":630,"s":"g","y":103,"lo":78,"hi":128},{"t":640,"s":"g","y":105,"lo":77,"hi":133},{"t":650,"s":"g","y":103,"lo":78,"hi":128},{"t":660,"s":"g","y":104,"lo":72,"hi":136},{"t":670,"s":"g","y":106,"lo":76,"hi":136},{"t":680,"s":"g","y":105,"lo":75,"hi":135},{"t":690,"s":"g","y":104,"lo":76,"hi":132},{"t":700,"s":"g","y":102,"lo":76,"hi":128},{"t":710,"s":"g","y":103,"lo":78,"hi":128},{"t":720,"s":"g","y":104,"lo":79,"hi":129},{"t":730,"s":"g","y":105,"lo":83,"hi":127},{"t":740,"s":"g","y":106,"lo":82,"hi":130},{"t":750,"s":"g","y":104,"lo":79,"hi":129},{"t":760,"s":"g","y":101,"lo":73,"hi":129},{"t":770,"s":"g","y":99,"lo":69,"hi":129},{"t":780,"s":"g","y":97,"lo":69,"hi":125},{"t":790,"s":"g","y":98,"lo":73,"hi":123},{"t":800,"s":"g","y":100,"lo":76,"hi":124},{"t":810,"s":"g","y":99,"lo":74,"hi":124},{"t":820,"s":"g","y":100,"lo":72,"hi":128},{"t":830,"s":"g","y":99,"lo":69,"hi":129},
{"t":840,"s":"g","y":100,"lo":75,"hi":125},{"t":850,"s":"g","y":102,"lo":77,"hi":127},{"t":860,"s":"g","y":103,"lo":78,"hi":128},{"t":870,"s":"g","y":104,"lo":79,"hi":129},{"t":880,"s":"g","y":102,"lo":77,"hi":127},{"t":890,"s":"g","y":100,"lo":75,"hi":125},{"t":900,"s":"g","y":99,"lo":74,"hi":124},{"t":910,"s":"g","y":98,"lo":73,"hi":123},{"t":920,"s":"g","y":100,"lo":75,"hi":125},{"t":930,"s":"g","y":101,"lo":76,"hi":126},{"t":940,"s":"g","y":99,"lo":74,"hi":124},{"t":950,"s":"g","y":98,"lo":73,"hi":123},{"t":960,"s":"g","y":100,"lo":75,"hi":125},{"t":970,"s":"g","y":101,"lo":76,"hi":126},
{"t":5,"s":"m","y":128.7,"lo":86,"hi":168.3},{"t":15,"s":"m","y":135.1,"lo":89.2,"hi":184.2},{"t":25,"s":"m","y":128.7,"lo":80.9,"hi":173.4},{"t":35,"s":"m","y":126.8,"lo":77.7,"hi":176.6},{"t":45,"s":"m","y":124.2,"lo":84,"hi":162.5},{"t":55,"s":"m","y":124.2,"lo":84,"hi":160.6},{"t":65,"s":"m","y":122.3,"lo":82.1,"hi":159.3},{"t":75,"s":"m","y":120.4,"lo":84,"hi":158.7},{"t":85,"s":"m","y":119.1,"lo":82.1,"hi":156.2},{"t":95,"s":"m","y":116,"lo":80.9,"hi":157.4},{"t":105,"s":"m","y":109.6,"lo":84,"hi":133.2},{"t":115,"s":"m","y":117.9,"lo":79.6,"hi":151},{"t":125,"s":"m","y":119.1,"lo":79.6,"hi":152.3},{"t":135,"s":"m","y":122.3,"lo":80.9,"hi":158.7},{"t":145,"s":"m","y":117.9,"lo":80.9,"hi":147.9},{"t":155,"s":"m","y":116,"lo":77.7,"hi":144.7},{"t":165,"s":"m","y":112.8,"lo":73.2,"hi":149.8},{"t":175,"s":"m","y":112.8,"lo":71.3,"hi":151},{"t":185,"s":"m","y":111.5,"lo":71.3,"hi":141.5},{"t":195,"s":"m","y":109.6,"lo":77.7,"hi":138.3},{"t":205,"s":"m","y":105.1,"lo":77.7,"hi":128.7},{"t":215,"s":"m","y":107.7,"lo":77.7,"hi":139.6},{"t":225,"s":"m","y":111.5,"lo":80.9,"hi":143.4},{"t":235,"s":"m","y":109.6,"lo":71.3,"hi":143.4},{"t":245,"s":"m","y":112.8,"lo":80.9,"hi":154.2},{"t":255,"s":"m","y":114,"lo":77.7,"hi":141.5},{"t":265,"s":"m","y":114,"lo":74.5,"hi":154.2},{"t":275,"s":"m","y":111.5,"lo":80.9,"hi":141.5},{"t":285,"s":"m","y":111.5,"lo":74.5,"hi":141.5},{"t":295,"s":"m","y":109.6,"lo":84,"hi":133.2},{"t":305,"s":"m","y":117.9,"lo":90.4,"hi":146},{"t":315,"s":"m","y":117.9,"lo":90.4,"hi":147.9},{"t":325,"s":"m","y":114,"lo":90.4,"hi":137},{"t":335,"s":"m","y":109.6,"lo":96.8,"hi":122.3},{"t":345,"s":"m","y":116,"lo":93.6,"hi":138.3},{"t":355,"s":"m","y":112.8,"lo":90.4,"hi":135.1},{"t":365,"s":"m","y":117.9,"lo":90.4,"hi":141.5},{"t":375,"s":"m","y":116,"lo":90.4,"hi":144.7},{"t":385,"s":"m","y":114,"lo":88.5,"hi":141.5},{"t":395,"s":"m","y":111.5,"lo":93.6,"hi":128.7},{"t":405,"s":"m","y":103.2,"lo":87.2,"hi":122.3},{"t":415,"s":"m","y":100},
{"t":795,"s":"m","y":120,"lo":72,"hi":166},
{"t":840,"s":"m","y":128,"lo":92,"hi":170},{"t":850,"s":"m","y":132,"lo":95,"hi":172},{"t":860,"s":"m","y":125,"lo":88,"hi":168},{"t":870,"s":"m","y":120,"lo":82,"hi":162},{"t":880,"s":"m","y":116,"lo":80,"hi":150},{"t":890,"s":"m","y":112,"lo":78,"hi":148},{"t":900,"s":"m","y":110,"lo":75,"hi":150},{"t":910,"s":"m","y":108,"lo":74,"hi":148},{"t":920,"s":"m","y":110,"lo":72,"hi":150},{"t":930,"s":"m","y":106,"lo":70,"hi":142},{"t":940,"s":"m","y":104,"lo":72,"hi":140},{"t":950,"s":"m","y":105,"lo":74,"hi":138},{"t":960,"s":"m","y":107,"lo":78,"hi":140},{"t":970,"s":"m","y":104,"lo":80,"hi":138}
 ]
},
"columns":2,
"spacing":{"row":59,"column":79},
"bounds":"flush",
"concat":[
 {"width":493,"height":157,"data":{"name":"aAgo"},
  "transform":[{"calculate":"datum.t < 417 ? 'Baseline' : (datum.t < 837 ? 'ARC' : 'Washout')","as":"phase"}],
  "encoding":{
   "x":{"field":"t","type":"quantitative","scale":{"domain":[0,417,417.01,837,837.01,975],"range":[0,201.4,214,416.8,426,492.8],"nice":false,"zero":false},"axis":null},
   "y":{"field":"y","type":"quantitative","scale":{"domain":[30,180],"nice":false,"zero":false},"axis":{"values":[50,100,150],"title":"Agonist (%)"}}
  },
  "layer":[
   {"data":{"name":"arrA"},
    "transform":[{"calculate":"225.8","as":"lvl"},{"calculate":"239","as":"lblLvl"},{"calculate":"(datum.start + datum.end) / 2","as":"mid"}],
    "encoding":{"color":{"field":"phase","type":"nominal","scale":{"domain":["Baseline","ARC","Washout"],"range":["#000000","#d9822b","#000000"]},"legend":null}},
    "layer":[
     {"mark":{"type":"rule","strokeWidth":4},"encoding":{"x":{"field":"start","type":"quantitative"},"x2":{"field":"end"},"y":{"field":"lvl","type":"quantitative"}}},
     {"mark":{"type":"point","shape":"triangle-right","filled":true,"size":320,"opacity":1},"encoding":{"x":{"field":"end","type":"quantitative"},"y":{"field":"lvl","type":"quantitative"}}},
     {"mark":{"type":"text","fontSize":18.5,"baseline":"middle"},"encoding":{"x":{"field":"mid","type":"quantitative"},"y":{"field":"lblLvl","type":"quantitative"},"text":{"field":"phase"},"color":{"value":"#000000"}}}
    ]},
   {"data":{"values":[{"label":"ARC with Agonist"}]},"transform":[{"calculate":"483","as":"pos"},{"calculate":"279","as":"lvl"}],"mark":{"type":"text","fontSize":21,"baseline":"middle"},"encoding":{"x":{"field":"pos","type":"quantitative"},"y":{"field":"lvl","type":"quantitative"},"text":{"field":"label"}}},
   {"data":{"values":[{"label":"A"}]},"transform":[{"calculate":"-118","as":"pos"},{"calculate":"279","as":"lvl"}],"mark":{"type":"text","fontSize":22,"fontWeight":"bold","baseline":"middle"},"encoding":{"x":{"field":"pos","type":"quantitative"},"y":{"field":"lvl","type":"quantitative"},"text":{"field":"label"}}},
   {"data":{"name":"segs"},"mark":{"type":"rule","color":"#c4c4c4","strokeWidth":1.5},"encoding":{"x":{"field":"start","type":"quantitative"},"x2":{"field":"end"},"y":{"datum":30,"type":"quantitative"}}},
   {"transform":[{"filter":"datum.s === 'g'"}],"encoding":{"color":{"value":"#c8c8c8"}},"layer":[
    {"mark":{"type":"rule","strokeWidth":1.2},"encoding":{"y":{"field":"lo","type":"quantitative"},"y2":{"field":"hi"}}},
    {"mark":{"type":"tick","orient":"horizontal","size":5,"thickness":1.2},"encoding":{"y":{"field":"lo","type":"quantitative"}}},
    {"mark":{"type":"tick","orient":"horizontal","size":5,"thickness":1.2},"encoding":{"y":{"field":"hi","type":"quantitative"}}},
    {"mark":{"type":"line","strokeWidth":1.5},"encoding":{"detail":{"field":"phase"}}}
   ]},
   {"transform":[{"filter":"datum.s === 'm'"}],"encoding":{"color":{"value":"#2b4fb0"}},"layer":[
    {"mark":{"type":"rule","strokeWidth":1.3},"encoding":{"y":{"field":"lo","type":"quantitative"},"y2":{"field":"hi"}}},
    {"mark":{"type":"tick","orient":"horizontal","size":5,"thickness":1.3},"encoding":{"y":{"field":"lo","type":"quantitative"}}},
    {"mark":{"type":"tick","orient":"horizontal","size":5,"thickness":1.3},"encoding":{"y":{"field":"hi","type":"quantitative"}}},
    {"mark":{"type":"line","strokeWidth":1.6},"encoding":{"detail":{"field":"phase"}}},
    {"transform":[{"filter":"datum.phase === 'ARC'"}],"mark":{"type":"point","filled":true,"size":40,"opacity":1}}
   ]},
   {"data":{"name":"aAgoS"},"mark":{"type":"text","text":"*","fontSize":18,"baseline":"middle","dy":5}}
  ]
 },
 {"width":486,"height":157,"data":{"name":"bAgo"},
  "transform":[{"calculate":"datum.t < 417 ? 'Baseline' : (datum.t < 837 ? 'ARC' : 'Washout')","as":"phase"}],
  "encoding":{
   "x":{"field":"t","type":"quantitative","scale":{"domain":[0,417,417.01,837,837.01,975],"range":[0,202,210.7,414.5,419.4,486.4],"nice":false,"zero":false},"axis":null},
   "y":{"field":"y","type":"quantitative","scale":{"domain":[27,149],"nice":false,"zero":false},"axis":{"values":[50,100],"title":null}}
  },
  "layer":[
   {"data":{"name":"arrB"},
    "transform":[{"calculate":"184.7","as":"lvl"},{"calculate":"194","as":"lblLvl"},{"calculate":"(datum.start + datum.end) / 2","as":"mid"}],
    "encoding":{"color":{"field":"phase","type":"nominal","scale":{"domain":["Baseline","ARC","Washout"],"range":["#000000","#d9822b","#000000"]},"legend":null}},
    "layer":[
     {"mark":{"type":"rule","strokeWidth":4},"encoding":{"x":{"field":"start","type":"quantitative"},"x2":{"field":"end"},"y":{"field":"lvl","type":"quantitative"}}},
     {"mark":{"type":"point","shape":"triangle-right","filled":true,"size":320,"opacity":1},"encoding":{"x":{"field":"end","type":"quantitative"},"y":{"field":"lvl","type":"quantitative"}}},
     {"mark":{"type":"text","fontSize":18.5,"baseline":"middle"},"encoding":{"x":{"field":"mid","type":"quantitative"},"y":{"field":"lblLvl","type":"quantitative"},"text":{"field":"phase"},"color":{"value":"#000000"}}}
    ]},
   {"data":{"values":[{"label":"ARC with Synergist"}]},"transform":[{"calculate":"502","as":"pos"},{"calculate":"229.8","as":"lvl"}],"mark":{"type":"text","fontSize":21,"baseline":"middle"},"encoding":{"x":{"field":"pos","type":"quantitative"},"y":{"field":"lvl","type":"quantitative"},"text":{"field":"label"}}},
   {"data":{"values":[{"label":"B"}]},"transform":[{"calculate":"-118","as":"pos"},{"calculate":"229.8","as":"lvl"}],"mark":{"type":"text","fontSize":22,"fontWeight":"bold","baseline":"middle"},"encoding":{"x":{"field":"pos","type":"quantitative"},"y":{"field":"lvl","type":"quantitative"},"text":{"field":"label"}}},
   {"data":{"name":"segs"},"mark":{"type":"rule","color":"#c4c4c4","strokeWidth":1.5},"encoding":{"x":{"field":"start","type":"quantitative"},"x2":{"field":"end"},"y":{"datum":27,"type":"quantitative"}}},
   {"transform":[{"filter":"datum.s === 'g'"}],"encoding":{"color":{"value":"#c8c8c8"}},"layer":[
    {"mark":{"type":"rule","strokeWidth":1.2},"encoding":{"y":{"field":"lo","type":"quantitative"},"y2":{"field":"hi"}}},
    {"mark":{"type":"tick","orient":"horizontal","size":5,"thickness":1.2},"encoding":{"y":{"field":"lo","type":"quantitative"}}},
    {"mark":{"type":"tick","orient":"horizontal","size":5,"thickness":1.2},"encoding":{"y":{"field":"hi","type":"quantitative"}}},
    {"mark":{"type":"line","strokeWidth":1.5},"encoding":{"detail":{"field":"phase"}}}
   ]},
   {"transform":[{"filter":"datum.s === 'm'"}],"encoding":{"color":{"value":"#2b4fb0"}},"layer":[
    {"mark":{"type":"rule","strokeWidth":1.3},"encoding":{"y":{"field":"lo","type":"quantitative"},"y2":{"field":"hi"}}},
    {"mark":{"type":"tick","orient":"horizontal","size":5,"thickness":1.3},"encoding":{"y":{"field":"lo","type":"quantitative"}}},
    {"mark":{"type":"tick","orient":"horizontal","size":5,"thickness":1.3},"encoding":{"y":{"field":"hi","type":"quantitative"}}},
    {"mark":{"type":"line","strokeWidth":1.6},"encoding":{"detail":{"field":"phase"}}},
    {"transform":[{"filter":"datum.phase === 'ARC'"}],"mark":{"type":"point","filled":true,"size":40,"opacity":1}}
   ]},
   {"data":{"name":"bAgoS"},"mark":{"type":"text","text":"*","fontSize":18,"baseline":"middle","dy":5}}
  ]
 },
 {"width":493,"height":158,"data":{"name":"aSyn"},
  "transform":[{"calculate":"datum.t < 417 ? 'Baseline' : (datum.t < 837 ? 'ARC' : 'Washout')","as":"phase"}],
  "encoding":{
   "x":{"field":"t","type":"quantitative","scale":{"domain":[0,417,417.01,837,837.01,975],"range":[0,201.4,214,416.8,426,492.8],"nice":false,"zero":false},"axis":null},
   "y":{"field":"y","type":"quantitative","scale":{"domain":[40,180],"nice":false,"zero":false},"axis":{"values":[50,100,150],"title":"Synergist (%)"}}
  },
  "layer":[
   {"data":{"name":"segs"},"mark":{"type":"rule","color":"#c4c4c4","strokeWidth":1.5},"encoding":{"x":{"field":"start","type":"quantitative"},"x2":{"field":"end"},"y":{"datum":40,"type":"quantitative"}}},
   {"transform":[{"filter":"datum.s === 'g'"}],"encoding":{"color":{"value":"#c8c8c8"}},"layer":[
    {"mark":{"type":"rule","strokeWidth":1.2},"encoding":{"y":{"field":"lo","type":"quantitative"},"y2":{"field":"hi"}}},
    {"mark":{"type":"tick","orient":"horizontal","size":5,"thickness":1.2},"encoding":{"y":{"field":"lo","type":"quantitative"}}},
    {"mark":{"type":"tick","orient":"horizontal","size":5,"thickness":1.2},"encoding":{"y":{"field":"hi","type":"quantitative"}}},
    {"mark":{"type":"line","strokeWidth":1.5},"encoding":{"detail":{"field":"phase"}}}
   ]},
   {"transform":[{"filter":"datum.s === 'm'"}],"encoding":{"color":{"value":"#f02a2a"}},"layer":[
    {"mark":{"type":"rule","strokeWidth":1.3},"encoding":{"y":{"field":"lo","type":"quantitative"},"y2":{"field":"hi"}}},
    {"mark":{"type":"tick","orient":"horizontal","size":5,"thickness":1.3},"encoding":{"y":{"field":"lo","type":"quantitative"}}},
    {"mark":{"type":"tick","orient":"horizontal","size":5,"thickness":1.3},"encoding":{"y":{"field":"hi","type":"quantitative"}}},
    {"mark":{"type":"line","strokeWidth":1.6},"encoding":{"detail":{"field":"phase"}}},
    {"transform":[{"filter":"datum.phase === 'ARC'"}],"mark":{"type":"point","filled":true,"size":40,"opacity":1}}
   ]},
   {"data":{"name":"aSynS"},"mark":{"type":"text","text":"*","fontSize":18,"baseline":"middle","dy":5}}
  ]
 },
 {"width":486,"height":154,"data":{"name":"bSyn"},
  "transform":[{"calculate":"datum.t < 417 ? 'Baseline' : (datum.t < 837 ? 'ARC' : 'Washout')","as":"phase"}],
  "encoding":{
   "x":{"field":"t","type":"quantitative","scale":{"domain":[0,417,417.01,837,837.01,975],"range":[0,202,210.7,414.5,419.4,486.4],"nice":false,"zero":false},"axis":null},
   "y":{"field":"y","type":"quantitative","scale":{"domain":[62,270],"nice":false,"zero":false},"axis":{"values":[100,200],"title":null}}
  },
  "layer":[
   {"data":{"name":"segs"},"mark":{"type":"rule","color":"#c4c4c4","strokeWidth":1.5},"encoding":{"x":{"field":"start","type":"quantitative"},"x2":{"field":"end"},"y":{"datum":62,"type":"quantitative"}}},
   {"transform":[{"filter":"datum.s === 'g'"}],"encoding":{"color":{"value":"#c8c8c8"}},"layer":[
    {"mark":{"type":"rule","strokeWidth":1.2},"encoding":{"y":{"field":"lo","type":"quantitative"},"y2":{"field":"hi"}}},
    {"mark":{"type":"tick","orient":"horizontal","size":5,"thickness":1.2},"encoding":{"y":{"field":"lo","type":"quantitative"}}},
    {"mark":{"type":"tick","orient":"horizontal","size":5,"thickness":1.2},"encoding":{"y":{"field":"hi","type":"quantitative"}}},
    {"mark":{"type":"line","strokeWidth":1.5},"encoding":{"detail":{"field":"phase"}}}
   ]},
   {"transform":[{"filter":"datum.s === 'm'"}],"encoding":{"color":{"value":"#f02a2a"}},"layer":[
    {"mark":{"type":"rule","strokeWidth":1.3},"encoding":{"y":{"field":"lo","type":"quantitative"},"y2":{"field":"hi"}}},
    {"mark":{"type":"tick","orient":"horizontal","size":5,"thickness":1.3},"encoding":{"y":{"field":"lo","type":"quantitative"}}},
    {"mark":{"type":"tick","orient":"horizontal","size":5,"thickness":1.3},"encoding":{"y":{"field":"hi","type":"quantitative"}}},
    {"mark":{"type":"line","strokeWidth":1.6},"encoding":{"detail":{"field":"phase"}}},
    {"transform":[{"filter":"datum.phase === 'ARC'"}],"mark":{"type":"point","filled":true,"size":40,"opacity":1}}
   ]},
   {"data":{"name":"bSynS"},"mark":{"type":"text","text":"*","fontSize":18,"baseline":"middle","dy":5}}
  ]
 },
 {"width":493,"height":159,"data":{"name":"aAnt"},
  "transform":[{"calculate":"datum.t < 417 ? 'Baseline' : (datum.t < 837 ? 'ARC' : 'Washout')","as":"phase"}],
  "encoding":{
   "x":{"field":"t","type":"quantitative","scale":{"domain":[0,417,417.01,837,837.01,975],"range":[0,201.4,214,416.8,426,492.8],"nice":false,"zero":false},"axis":{"values":[0,100,200,300,400,500,600,700,800,900],"domain":false,"title":"trials"}},
   "y":{"field":"y","type":"quantitative","scale":{"domain":[0,300],"nice":false,"zero":false},"axis":{"values":[0,100,200,300],"title":"Antagonist (%)"}}
  },
  "layer":[
   {"data":{"name":"segs"},"mark":{"type":"rule","color":"#c4c4c4","strokeWidth":1.5},"encoding":{"x":{"field":"start","type":"quantitative","title":"trials"},"x2":{"field":"end"},"y":{"datum":0,"type":"quantitative"}}},
   {"data":{"name":"segs"},"transform":[{"filter":"datum.start > 0"}],"mark":{"type":"rule","color":"#c4c4c4","strokeWidth":1.5},"encoding":{"x":{"field":"start","type":"quantitative","title":"trials"},"y":{"datum":0,"type":"quantitative"},"y2":{"datum":300}}},
   {"transform":[{"filter":"datum.s === 'g'"}],"encoding":{"color":{"value":"#c8c8c8"}},"layer":[
    {"mark":{"type":"rule","strokeWidth":1.2},"encoding":{"y":{"field":"lo","type":"quantitative"},"y2":{"field":"hi"}}},
    {"mark":{"type":"tick","orient":"horizontal","size":5,"thickness":1.2},"encoding":{"y":{"field":"lo","type":"quantitative"}}},
    {"mark":{"type":"tick","orient":"horizontal","size":5,"thickness":1.2},"encoding":{"y":{"field":"hi","type":"quantitative"}}},
    {"mark":{"type":"line","strokeWidth":1.5},"encoding":{"detail":{"field":"phase"}}}
   ]},
   {"transform":[{"filter":"datum.s === 'm'"}],"encoding":{"color":{"value":"#1e1e1e"}},"layer":[
    {"mark":{"type":"rule","strokeWidth":1.3},"encoding":{"y":{"field":"lo","type":"quantitative"},"y2":{"field":"hi"}}},
    {"mark":{"type":"tick","orient":"horizontal","size":5,"thickness":1.3},"encoding":{"y":{"field":"lo","type":"quantitative"}}},
    {"mark":{"type":"tick","orient":"horizontal","size":5,"thickness":1.3},"encoding":{"y":{"field":"hi","type":"quantitative"}}},
    {"mark":{"type":"line","strokeWidth":1.6},"encoding":{"detail":{"field":"phase"}}},
    {"transform":[{"filter":"datum.phase === 'ARC'"}],"mark":{"type":"point","filled":true,"size":40,"opacity":1}}
   ]}
  ]
 },
 {"width":486,"height":158,"data":{"name":"bAnt"},
  "transform":[{"calculate":"datum.t < 417 ? 'Baseline' : (datum.t < 837 ? 'ARC' : 'Washout')","as":"phase"}],
  "encoding":{
   "x":{"field":"t","type":"quantitative","scale":{"domain":[0,417,417.01,837,837.01,975],"range":[0,202,210.7,414.5,419.4,486.4],"nice":false,"zero":false},"axis":{"values":[0,100,200,300,400,500,600,700,800,900],"domain":false,"title":"trials"}},
   "y":{"field":"y","type":"quantitative","scale":{"domain":[0,300],"nice":false,"zero":false},"axis":{"values":[0,100,200,300],"title":null}}
  },
  "layer":[
   {"data":{"name":"segs"},"mark":{"type":"rule","color":"#c4c4c4","strokeWidth":1.5},"encoding":{"x":{"field":"start","type":"quantitative","title":"trials"},"x2":{"field":"end"},"y":{"datum":0,"type":"quantitative"}}},
   {"data":{"name":"segs"},"transform":[{"filter":"datum.start > 0"}],"mark":{"type":"rule","color":"#c4c4c4","strokeWidth":1.5},"encoding":{"x":{"field":"start","type":"quantitative","title":"trials"},"y":{"datum":0,"type":"quantitative"},"y2":{"datum":300}}},
   {"transform":[{"filter":"datum.s === 'g'"}],"encoding":{"color":{"value":"#c8c8c8"}},"layer":[
    {"mark":{"type":"rule","strokeWidth":1.2},"encoding":{"y":{"field":"lo","type":"quantitative"},"y2":{"field":"hi"}}},
    {"mark":{"type":"tick","orient":"horizontal","size":5,"thickness":1.2},"encoding":{"y":{"field":"lo","type":"quantitative"}}},
    {"mark":{"type":"tick","orient":"horizontal","size":5,"thickness":1.2},"encoding":{"y":{"field":"hi","type":"quantitative"}}},
    {"mark":{"type":"line","strokeWidth":1.5},"encoding":{"detail":{"field":"phase"}}}
   ]},
   {"transform":[{"filter":"datum.s === 'm'"}],"encoding":{"color":{"value":"#1e1e1e"}},"layer":[
    {"mark":{"type":"rule","strokeWidth":1.3},"encoding":{"y":{"field":"lo","type":"quantitative"},"y2":{"field":"hi"}}},
    {"mark":{"type":"tick","orient":"horizontal","size":5,"thickness":1.3},"encoding":{"y":{"field":"lo","type":"quantitative"}}},
    {"mark":{"type":"tick","orient":"horizontal","size":5,"thickness":1.3},"encoding":{"y":{"field":"hi","type":"quantitative"}}},
    {"mark":{"type":"line","strokeWidth":1.6},"encoding":{"detail":{"field":"phase"}}},
    {"transform":[{"filter":"datum.phase === 'ARC'"}],"mark":{"type":"point","filled":true,"size":40,"opacity":1}}
   ]}
  ]
 }
]
}
